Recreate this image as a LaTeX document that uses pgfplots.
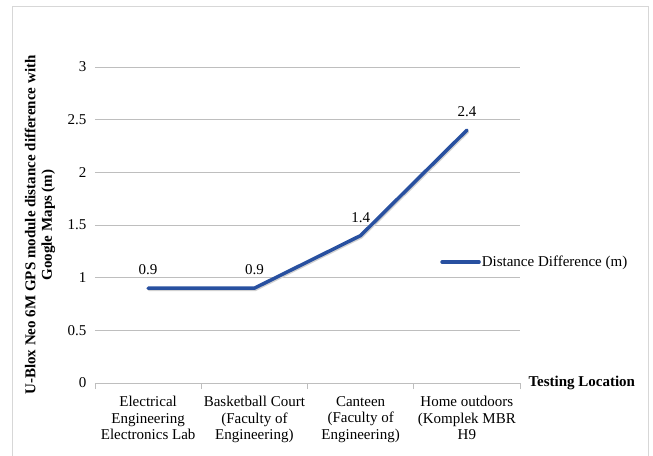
\documentclass[border=0pt]{standalone}
\usepackage{fontspec}
\setmainfont{Liberation Serif}
\usepackage{pgfplots}
\pgfplotsset{compat=1.18}

\definecolor{lineblue}{RGB}{40,80,160}
\definecolor{gridgray}{RGB}{190,190,190}
\definecolor{framegray}{RGB}{215,215,215}

\newcommand{\chartfont}{\fontsize{15}{16.5}\selectfont}

\begin{document}
\begin{tikzpicture}
\begin{axis}[
  scale only axis,
  width=425pt, height=316pt,
  xmin=-0.5, xmax=3.5,
  ymin=0, ymax=3,
  ytick={0,0.5,...,3},
  xtick={0,1,2,3},
  xticklabels={Electrical\\Engineering\\Electronics Lab,
               Basketball Court\\(Faculty of\\Engineering),
               Canteen\\(Faculty of\\Engineering),
               Home outdoors\\(Komplek MBR\\H9},
  extra x ticks={-0.5,0.5,1.5,2.5,3.5},
  extra x tick labels={},
  extra x tick style={major tick length=6pt, tick align=outside,
    tick style={gridgray, line width=0.8pt}, grid=none},
  major tick length=0pt,
  axis lines=left,
  axis line style={-},
  x axis line style={gridgray, line width=0.8pt},
  y axis line style={draw=none},
  ymajorgrids,
  grid style={gridgray, line width=0.8pt},
  /pgf/number format/assume math mode=true,
  ticklabel style={font=\chartfont},
  yticklabel style={xshift=-5pt},
  xticklabel style={align=center, yshift=-10pt},
  xlabel={\textbf{Testing Location}},
  xlabel style={font=\chartfont, at={(rel axis cs:1,0)}, anchor=west, xshift=5pt},
  ylabel={\textbf{U-Blox Neo 6M GPS module distance difference with}\\\textbf{Google Maps (m)}},
  ylabel style={font=\chartfont, align=center, at={(rel axis cs:0,0.5)},
    anchor=center, yshift=55pt},
  legend style={draw=none, fill=none, font=\chartfont,
    at={(rel axis cs:0.812,0.383)}, anchor=west, inner sep=0pt,
    nodes={inner sep=1pt}},
  legend image code/.code={\draw[#1] (0pt,0pt) -- (37pt,0pt);},
  clip=false,
]
\addplot[draw=black!18, line width=3.5pt, line join=round, line cap=round,
  transform canvas={xshift=0.8pt, yshift=-1.2pt}, forget plot]
  coordinates {(0,0.9) (1,0.9) (2,1.4) (3,2.4)};
\addplot[lineblue, line width=3.5pt, line join=round, line cap=round,
  nodes near coords, point meta=explicit symbolic,
  every node near coord/.append style={font=\chartfont, black, yshift=8pt}]
  coordinates {(0,0.9)[0.9] (1,0.9)[0.9] (2,1.4)[1.4] (3,2.4)[2.4]};
\addlegendentry{Distance Difference (m)}
\end{axis}
\draw[framegray, line width=1pt] (-82pt,-80pt) -- (-82pt,376pt) -- (553pt,376pt) -- (553pt,-80pt);
\pgfresetboundingbox
\path (-95pt,-72pt) rectangle (558pt,383pt);
\end{tikzpicture}
\end{document}
